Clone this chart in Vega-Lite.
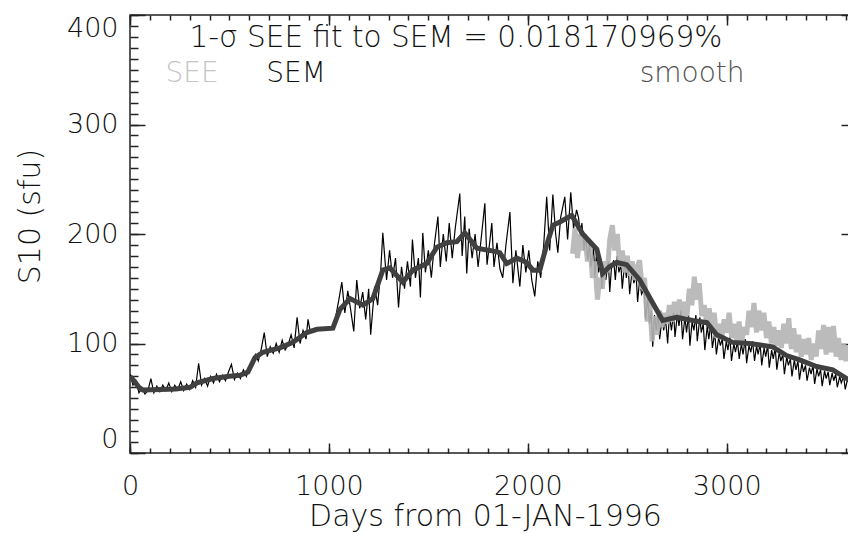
{
  "$schema": "https://vega.github.io/schema/vega-lite/v6.json",
  "width": 726,
  "height": 438,
  "autosize": {"type": "none"},
  "padding": {"left": 130, "top": 15, "right": 0, "bottom": 80},
  "background": "#ffffff",
  "config": {
    "view": {"stroke": "#222222", "strokeWidth": 1.5},
    "axis": {"domain": false, "grid": false, "labelFont": "DejaVu Sans", "titleFont": "DejaVu Sans", "labelFontWeight": 200, "titleFontWeight": 200, "labelColor": "#111111", "titleColor": "#111111", "tickColor": "#222222", "tickWidth": 1.5, "labelOverlap": false}
  },
  "datasets": {
    "sem": [
      {"day":0,"sfu":72},{"day":15,"sfu":62},{"day":30,"sfu":66},{"day":45,"sfu":55},{"day":60,"sfu":59},{"day":75,"sfu":54},{"day":90,"sfu":57},{"day":105,"sfu":68},{"day":120,"sfu":55},{"day":135,"sfu":61},{"day":150,"sfu":56},{"day":165,"sfu":62},{"day":180,"sfu":57},{"day":195,"sfu":64},{"day":210,"sfu":56},{"day":225,"sfu":62},{"day":240,"sfu":58},{"day":255,"sfu":65},{"day":270,"sfu":57},{"day":285,"sfu":63},{"day":300,"sfu":58},{"day":315,"sfu":66},{"day":330,"sfu":60},{"day":345,"sfu":82},{"day":360,"sfu":62},{"day":375,"sfu":68},{"day":390,"sfu":61},{"day":405,"sfu":70},{"day":420,"sfu":64},{"day":435,"sfu":72},{"day":450,"sfu":65},{"day":465,"sfu":71},{"day":480,"sfu":66},{"day":495,"sfu":74},{"day":510,"sfu":81},{"day":525,"sfu":67},{"day":540,"sfu":73},{"day":555,"sfu":68},{"day":570,"sfu":76},{"day":585,"sfu":70},{"day":600,"sfu":78},
      {"day":615,"sfu":80},{"day":630,"sfu":90},{"day":645,"sfu":84},{"day":660,"sfu":95},{"day":675,"sfu":110},{"day":690,"sfu":88},{"day":705,"sfu":97},{"day":720,"sfu":91},{"day":735,"sfu":100},{"day":750,"sfu":92},{"day":765,"sfu":103},{"day":780,"sfu":94},{"day":795,"sfu":99},{"day":810,"sfu":108},{"day":825,"sfu":96},{"day":840,"sfu":124},{"day":855,"sfu":100},{"day":870,"sfu":112},{"day":885,"sfu":104},{"day":895,"sfu":122},{"day":905,"sfu":112},{"day":1020,"sfu":114},
      {"day":1035,"sfu":125},{"day":1050,"sfu":140},{"day":1065,"sfu":156},{"day":1080,"sfu":128},{"day":1095,"sfu":148},{"day":1110,"sfu":130},{"day":1125,"sfu":111},{"day":1140,"sfu":158},{"day":1155,"sfu":132},{"day":1170,"sfu":147},{"day":1185,"sfu":122},{"day":1200,"sfu":150},{"day":1210,"sfu":108},{"day":1230,"sfu":152},{"day":1245,"sfu":135},{"day":1260,"sfu":165},{"day":1271,"sfu":201},
      {"day":1290,"sfu":158},{"day":1305,"sfu":185},{"day":1320,"sfu":160},{"day":1335,"sfu":178},{"day":1350,"sfu":133},{"day":1365,"sfu":170},{"day":1380,"sfu":150},{"day":1395,"sfu":175},{"day":1410,"sfu":152},{"day":1420,"sfu":195},{"day":1435,"sfu":160},{"day":1450,"sfu":178},{"day":1460,"sfu":142},{"day":1472,"sfu":201},{"day":1485,"sfu":165},{"day":1500,"sfu":185},{"day":1515,"sfu":160},{"day":1530,"sfu":190},{"day":1548,"sfu":216},{"day":1560,"sfu":170},{"day":1575,"sfu":200},{"day":1590,"sfu":175},{"day":1605,"sfu":210},{"day":1620,"sfu":178},{"day":1635,"sfu":205},{"day":1658,"sfu":237},{"day":1670,"sfu":180},{"day":1683,"sfu":216},{"day":1693,"sfu":164},{"day":1705,"sfu":205},{"day":1720,"sfu":178},{"day":1735,"sfu":200},{"day":1750,"sfu":170},{"day":1765,"sfu":195},{"day":1784,"sfu":228},{"day":1795,"sfu":172},{"day":1810,"sfu":195},{"day":1819,"sfu":210},{"day":1830,"sfu":170},{"day":1845,"sfu":192},{"day":1860,"sfu":168},{"day":1874,"sfu":160},{"day":1890,"sfu":190},{"day":1910,"sfu":220},{"day":1925,"sfu":155},{"day":1940,"sfu":185},{"day":1960,"sfu":152},{"day":1975,"sfu":190},{"day":1990,"sfu":165},{"day":2005,"sfu":185},{"day":2020,"sfu":158},{"day":2035,"sfu":143},{"day":2050,"sfu":175},{"day":2065,"sfu":160},{"day":2080,"sfu":190},{"day":2095,"sfu":234},{"day":2110,"sfu":185},{"day":2126,"sfu":236},{"day":2140,"sfu":200},{"day":2151,"sfu":183},{"day":2165,"sfu":215},{"day":2186,"sfu":234},{"day":2200,"sfu":195},{"day":2216,"sfu":238},{"day":2230,"sfu":205},{"day":2245,"sfu":222},
      {"day":2255,"sfu":215},{"day":2265,"sfu":198},{"day":2272,"sfu":210},{"day":2283,"sfu":185},{"day":2290,"sfu":200},{"day":2302,"sfu":176},{"day":2310,"sfu":192},{"day":2318,"sfu":170},{"day":2330,"sfu":188},{"day":2338,"sfu":160},{"day":2345,"sfu":182},{"day":2356,"sfu":165},{"day":2365,"sfu":174},{"day":2372,"sfu":150},{"day":2385,"sfu":168},{"day":2392,"sfu":158},{"day":2405,"sfu":175},{"day":2412,"sfu":147},{"day":2420,"sfu":168},{"day":2432,"sfu":176},{"day":2440,"sfu":158},{"day":2450,"sfu":180},{"day":2458,"sfu":165},{"day":2468,"sfu":172},{"day":2475,"sfu":150},{"day":2488,"sfu":176},{"day":2495,"sfu":160},{"day":2505,"sfu":170},{"day":2512,"sfu":145},{"day":2525,"sfu":168},{"day":2533,"sfu":155},{"day":2545,"sfu":162},{"day":2552,"sfu":138},{"day":2562,"sfu":158},{"day":2572,"sfu":145},{"day":2585,"sfu":150},{"day":2592,"sfu":122},{"day":2603,"sfu":142},{"day":2612,"sfu":118},{"day":2620,"sfu":130},{"day":2628,"sfu":97},{"day":2637,"sfu":126},{"day":2646,"sfu":112},{"day":2655,"sfu":130},{"day":2663,"sfu":104},{"day":2675,"sfu":124},{"day":2683,"sfu":112},{"day":2693,"sfu":122},{"day":2703,"sfu":100},{"day":2712,"sfu":126},{"day":2722,"sfu":112},{"day":2733,"sfu":128},{"day":2740,"sfu":106},{"day":2752,"sfu":127},{"day":2760,"sfu":116},{"day":2770,"sfu":130},{"day":2778,"sfu":104},{"day":2790,"sfu":124},{"day":2798,"sfu":110},{"day":2808,"sfu":126},{"day":2815,"sfu":98},{"day":2826,"sfu":120},{"day":2835,"sfu":112},{"day":2845,"sfu":126},{"day":2852,"sfu":102},{"day":2865,"sfu":124},{"day":2872,"sfu":110},{"day":2882,"sfu":118},{"day":2890,"sfu":94},{"day":2902,"sfu":116},{"day":2910,"sfu":104},{"day":2920,"sfu":118},{"day":2928,"sfu":96},{"day":2940,"sfu":110},{"day":2948,"sfu":90},{"day":2960,"sfu":106},{"day":2968,"sfu":98},{"day":2978,"sfu":104},{"day":2986,"sfu":86},{"day":2998,"sfu":102},{"day":3006,"sfu":94},{"day":3016,"sfu":106},{"day":3024,"sfu":84},{"day":3036,"sfu":100},{"day":3044,"sfu":92},{"day":3054,"sfu":102},{"day":3063,"sfu":86},{"day":3074,"sfu":100},{"day":3082,"sfu":90},{"day":3093,"sfu":104},{"day":3100,"sfu":82},{"day":3112,"sfu":98},{"day":3121,"sfu":92},{"day":3130,"sfu":102},{"day":3140,"sfu":84},{"day":3150,"sfu":98},{"day":3158,"sfu":90},{"day":3168,"sfu":100},{"day":3176,"sfu":80},{"day":3188,"sfu":96},{"day":3196,"sfu":88},{"day":3206,"sfu":98},{"day":3214,"sfu":78},{"day":3226,"sfu":94},{"day":3234,"sfu":86},{"day":3244,"sfu":96},{"day":3252,"sfu":76},{"day":3264,"sfu":92},{"day":3272,"sfu":84},{"day":3282,"sfu":90},{"day":3290,"sfu":72},{"day":3302,"sfu":88},{"day":3310,"sfu":80},{"day":3320,"sfu":86},{"day":3328,"sfu":70},{"day":3340,"sfu":85},{"day":3348,"sfu":76},{"day":3358,"sfu":84},{"day":3366,"sfu":67},{"day":3378,"sfu":82},{"day":3386,"sfu":74},{"day":3396,"sfu":80},{"day":3404,"sfu":66},{"day":3416,"sfu":78},{"day":3424,"sfu":72},{"day":3434,"sfu":80},{"day":3442,"sfu":63},{"day":3454,"sfu":77},{"day":3462,"sfu":70},{"day":3472,"sfu":76},{"day":3480,"sfu":61},{"day":3492,"sfu":75},{"day":3500,"sfu":68},{"day":3510,"sfu":74},{"day":3518,"sfu":62},{"day":3530,"sfu":73},{"day":3538,"sfu":66},{"day":3548,"sfu":72},{"day":3556,"sfu":60},{"day":3568,"sfu":70},{"day":3576,"sfu":64},{"day":3588,"sfu":70},{"day":3596,"sfu":58},{"day":3608,"sfu":68},{"day":3616,"sfu":62},{"day":3626,"sfu":67},{"day":3634,"sfu":57},{"day":3644,"sfu":64},{"day":3650,"sfu":60}
    ],
    "see": [
      {"day":2225,"sfu":182},{"day":2237,"sfu":205},{"day":2250,"sfu":178},{"day":2262,"sfu":200},{"day":2275,"sfu":185},{"day":2287,"sfu":198},{"day":2300,"sfu":175},{"day":2312,"sfu":190},{"day":2325,"sfu":160},{"day":2337,"sfu":175},{"day":2350,"sfu":140},{"day":2362,"sfu":160},{"day":2375,"sfu":150},{"day":2387,"sfu":175},{"day":2400,"sfu":165},{"day":2412,"sfu":195},{"day":2425,"sfu":208},{"day":2437,"sfu":185},{"day":2450,"sfu":200},{"day":2462,"sfu":170},{"day":2475,"sfu":185},{"day":2487,"sfu":165},{"day":2500,"sfu":180},{"day":2512,"sfu":162},{"day":2525,"sfu":175},{"day":2537,"sfu":158},{"day":2550,"sfu":170},{"day":2562,"sfu":176},{"day":2575,"sfu":150},{"day":2587,"sfu":160},{"day":2600,"sfu":120},{"day":2612,"sfu":140},{"day":2625,"sfu":102},{"day":2637,"sfu":125},{"day":2650,"sfu":108},{"day":2662,"sfu":130},{"day":2675,"sfu":115},{"day":2687,"sfu":128},{"day":2700,"sfu":118},{"day":2712,"sfu":135},{"day":2725,"sfu":120},{"day":2737,"sfu":138},{"day":2750,"sfu":125},{"day":2762,"sfu":140},{"day":2775,"sfu":122},{"day":2787,"sfu":138},{"day":2800,"sfu":125},{"day":2812,"sfu":150},{"day":2825,"sfu":135},{"day":2837,"sfu":161},{"day":2850,"sfu":140},{"day":2862,"sfu":155},{"day":2875,"sfu":125},{"day":2887,"sfu":135},{"day":2900,"sfu":118},{"day":2912,"sfu":132},{"day":2925,"sfu":115},{"day":2937,"sfu":128},{"day":2950,"sfu":105},{"day":2962,"sfu":118},{"day":2975,"sfu":104},{"day":2987,"sfu":122},{"day":3000,"sfu":110},{"day":3012,"sfu":128},{"day":3025,"sfu":105},{"day":3037,"sfu":118},{"day":3050,"sfu":102},{"day":3062,"sfu":120},{"day":3075,"sfu":100},{"day":3087,"sfu":115},{"day":3100,"sfu":108},{"day":3112,"sfu":130},{"day":3125,"sfu":115},{"day":3137,"sfu":137},{"day":3150,"sfu":110},{"day":3162,"sfu":130},{"day":3175,"sfu":112},{"day":3187,"sfu":128},{"day":3200,"sfu":105},{"day":3212,"sfu":120},{"day":3225,"sfu":100},{"day":3237,"sfu":115},{"day":3250,"sfu":98},{"day":3262,"sfu":112},{"day":3275,"sfu":96},{"day":3287,"sfu":118},{"day":3300,"sfu":100},{"day":3312,"sfu":123},{"day":3325,"sfu":95},{"day":3337,"sfu":114},{"day":3350,"sfu":92},{"day":3362,"sfu":108},{"day":3375,"sfu":88},{"day":3387,"sfu":104},{"day":3400,"sfu":90},{"day":3412,"sfu":105},{"day":3425,"sfu":85},{"day":3437,"sfu":100},{"day":3450,"sfu":88},{"day":3462,"sfu":112},{"day":3475,"sfu":95},{"day":3487,"sfu":117},{"day":3500,"sfu":90},{"day":3512,"sfu":115},{"day":3525,"sfu":92},{"day":3537,"sfu":116},{"day":3550,"sfu":88},{"day":3562,"sfu":105},{"day":3575,"sfu":85},{"day":3587,"sfu":100},{"day":3600,"sfu":84},{"day":3612,"sfu":98},{"day":3625,"sfu":80},{"day":3637,"sfu":90},{"day":3650,"sfu":78}
    ],
    "smooth": [
      {"day":0,"sfu":70},{"day":20,"sfu":66},{"day":45,"sfu":60},{"day":65,"sfu":57.5},{"day":151,"sfu":58},{"day":230,"sfu":58.5},{"day":302,"sfu":60},{"day":337,"sfu":64},{"day":417,"sfu":68},{"day":500,"sfu":70},{"day":553,"sfu":71},{"day":593,"sfu":74},{"day":628,"sfu":87},{"day":668,"sfu":92},{"day":710,"sfu":94},{"day":754,"sfu":96},{"day":819,"sfu":101},{"day":889,"sfu":110},{"day":940,"sfu":113},{"day":1020,"sfu":114},{"day":1055,"sfu":131},{"day":1106,"sfu":141},{"day":1171,"sfu":135},{"day":1221,"sfu":141},{"day":1271,"sfu":167},{"day":1307,"sfu":169},{"day":1372,"sfu":156},{"day":1422,"sfu":167},{"day":1492,"sfu":173},{"day":1543,"sfu":188},{"day":1593,"sfu":192},{"day":1643,"sfu":193},{"day":1683,"sfu":201},{"day":1744,"sfu":187},{"day":1809,"sfu":185},{"day":1859,"sfu":183},{"day":1894,"sfu":173},{"day":1945,"sfu":178},{"day":1995,"sfu":174},{"day":2025,"sfu":167},{"day":2060,"sfu":167},{"day":2095,"sfu":190},{"day":2126,"sfu":208},{"day":2161,"sfu":211},{"day":2221,"sfu":217},{"day":2276,"sfu":200},{"day":2347,"sfu":186},{"day":2377,"sfu":164},{"day":2410,"sfu":170},{"day":2447,"sfu":174},{"day":2497,"sfu":172},{"day":2563,"sfu":158},{"day":2628,"sfu":137},{"day":2678,"sfu":121},{"day":2749,"sfu":124},{"day":2829,"sfu":121},{"day":2900,"sfu":119},{"day":2950,"sfu":108},{"day":3030,"sfu":101},{"day":3116,"sfu":100},{"day":3231,"sfu":97},{"day":3301,"sfu":89},{"day":3367,"sfu":85},{"day":3452,"sfu":79},{"day":3533,"sfu":76},{"day":3603,"sfu":68},{"day":3650,"sfu":65}
    ],
    "heading": [
      {"label": "1-σ SEE fit to SEM = 0.018170969%", "role": "title", "day": 1639, "sfu": 370.8}
    ],
    "keys": [
      {"label": "SEE", "role": "SEE", "day": 312, "sfu": 338.8},
      {"label": "SEM", "role": "SEM", "day": 835, "sfu": 338.8},
      {"label": "smooth", "role": "smooth", "day": 2826, "sfu": 338.8}
    ]
  },
  "layer": [
    {
      "data": {"name": "sem"},
      "mark": {"type": "line", "color": "#000000", "strokeWidth": 1.2, "clip": true},
      "encoding": {
        "x": {"field": "day", "type": "quantitative", "scale": {"domain": [0, 3650], "nice": false, "zero": false},
          "axis": {"orient": "bottom", "values": [0, 1000, 2000, 3000], "format": "d", "ticks": false, "labelFontSize": 27, "labelPadding": 20, "labelFlush": false, "title": "Days from 01-JAN-1996", "titleFontSize": 30, "titleX": 355, "titleY": 72, "titleAlign": "center", "titleBaseline": "alphabetic"}},
        "y": {"field": "sfu", "type": "quantitative", "scale": {"domain": [0, 400], "nice": false, "zero": false},
          "axis": {"orient": "left", "values": [0, 100, 200, 300, 400], "format": "d", "ticks": false, "labelFontSize": 27, "labelPadding": 12, "labelFlush": true, "labelFlushOffset": 0, "title": "S10 (sfu)", "titleFontSize": 30, "titleAngle": 270, "titleX": -100, "titleY": 201, "titleAlign": "center", "titleBaseline": "middle"}}
      }
    },
    {
      "data": {"name": "see"},
      "mark": {"type": "line", "color": "#b4b4b4", "strokeWidth": 5, "opacity": 0.9, "clip": true},
      "encoding": {
        "x": {"field": "day", "type": "quantitative", "axis": {"orient": "bottom", "values": [0, 1000, 2000, 3000], "labels": false, "tickSize": -10, "title": null}},
        "y": {"field": "sfu", "type": "quantitative", "axis": {"orient": "left", "values": [0, 100, 200, 300, 400], "labels": false, "tickSize": -15, "title": null}}
      }
    },
    {
      "data": {"name": "smooth"},
      "mark": {"type": "line", "color": "#404040", "strokeWidth": 5, "clip": true},
      "encoding": {
        "x": {"field": "day", "type": "quantitative", "axis": {"orient": "bottom", "values": [0,100,200,300,400,500,600,700,800,900,1000,1100,1200,1300,1400,1500,1600,1700,1800,1900,2000,2100,2200,2300,2400,2500,2600,2700,2800,2900,3000,3100,3200,3300,3400,3500,3600], "labels": false, "tickSize": -5, "title": null}},
        "y": {"field": "sfu", "type": "quantitative", "axis": {"orient": "left", "values": [0,10,20,30,40,50,60,70,80,90,100,110,120,130,140,150,160,170,180,190,200,210,220,230,240,250,260,270,280,290,300,310,320,330,340,350,360,370,380,390,400], "labels": false, "tickSize": -8, "title": null}}
      }
    },
    {
      "data": {"name": "heading"},
      "mark": {"type": "text", "font": "DejaVu Sans", "fontWeight": 200, "fontSize": 29.5, "align": "center", "baseline": "alphabetic"},
      "encoding": {
        "x": {"field": "day", "type": "quantitative", "axis": {"orient": "top", "values": [0, 1000, 2000, 3000], "labels": false, "tickSize": -10, "title": null}},
        "y": {"field": "sfu", "type": "quantitative", "axis": {"orient": "right", "values": [0, 100, 200, 300, 400], "labels": false, "tickSize": -15, "title": null}},
        "text": {"field": "label"},
        "color": {"field": "role", "type": "nominal", "scale": {"domain": ["title", "SEE", "SEM", "smooth"], "range": ["#111111", "#c4c4c4", "#111111", "#505050"]}, "legend": null}
      }
    },
    {
      "data": {"name": "keys"},
      "mark": {"type": "text", "font": "DejaVu Sans", "fontWeight": 200, "fontSize": 28, "align": "center", "baseline": "alphabetic"},
      "encoding": {
        "x": {"field": "day", "type": "quantitative", "axis": {"orient": "top", "values": [0,100,200,300,400,500,600,700,800,900,1000,1100,1200,1300,1400,1500,1600,1700,1800,1900,2000,2100,2200,2300,2400,2500,2600,2700,2800,2900,3000,3100,3200,3300,3400,3500,3600], "labels": false, "tickSize": -5, "title": null}},
        "y": {"field": "sfu", "type": "quantitative", "axis": {"orient": "right", "values": [0,10,20,30,40,50,60,70,80,90,100,110,120,130,140,150,160,170,180,190,200,210,220,230,240,250,260,270,280,290,300,310,320,330,340,350,360,370,380,390,400], "labels": false, "tickSize": -8, "title": null}},
        "text": {"field": "label"},
        "color": {"field": "role", "type": "nominal", "legend": null}
      }
    }
  ],
  "resolve": {"axis": {"x": "independent", "y": "independent"}}
}
